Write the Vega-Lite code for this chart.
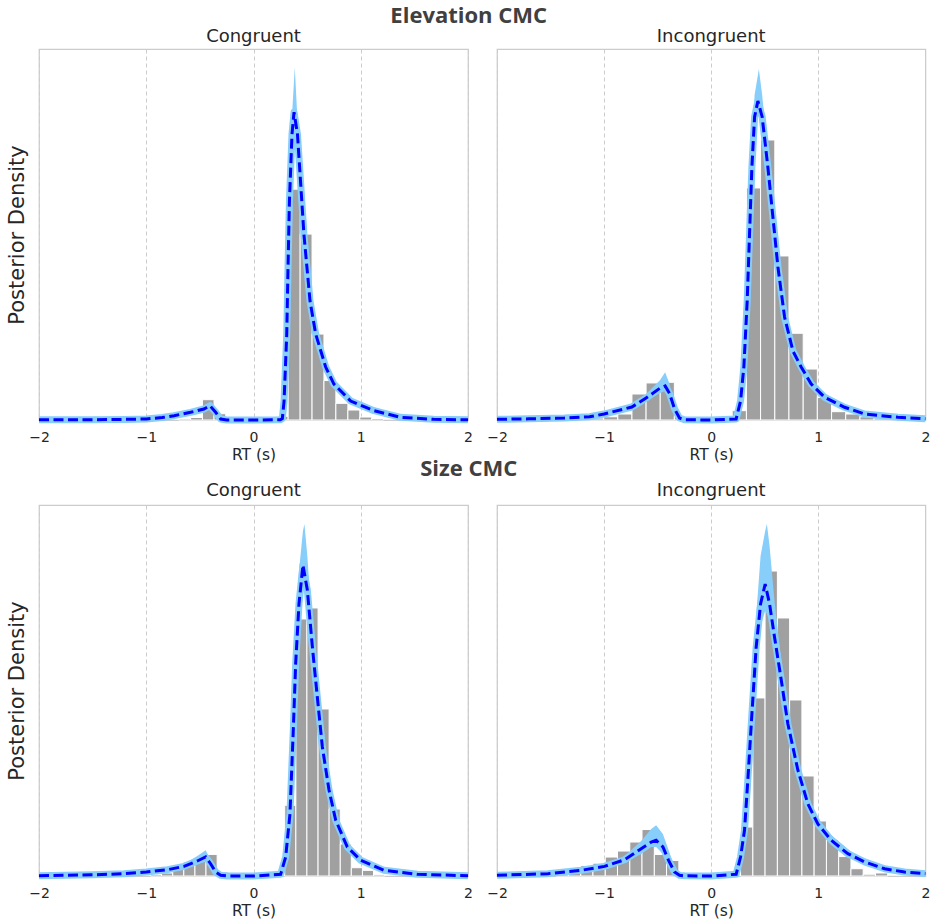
{
  "$schema": "https://vega.github.io/schema/vega-lite/v6.json",
  "background": "white",
  "padding": 5,
  "spacing": -6,
  "config": {
    "font": "DejaVu Sans",
    "view": {"stroke": "#cccccc", "strokeWidth": 1.25},
    "title": {"font": "DejaVu Sans", "fontSize": 18, "fontWeight": "normal", "color": "#262626", "offset": 3},
    "axisX": {
      "grid": true, "gridDash": [4, 3], "gridColor": "#cccccc", "gridWidth": 1,
      "domain": false, "ticks": false, "labelFlush": false, "format": "d",
      "labelFontSize": 14, "labelColor": "#262626", "labelPadding": 10,
      "titleFontSize": 15.5, "titleFontWeight": "normal", "titleColor": "#262626", "titlePadding": 3
    },
    "axisY": {
      "grid": false, "domain": false, "ticks": false, "labels": false,
      "titleFontSize": 21, "titleFontWeight": "normal", "titleColor": "#262626", "titlePadding": 12
    }
  },
  "datasets": {
    "bars": [
      {"p": "EC", "x0": -0.697, "x1": -0.586, "d": 0.015},
      {"p": "EC", "x0": -0.586, "x1": -0.476, "d": 0.037},
      {"p": "EC", "x0": -0.476, "x1": -0.368, "d": 0.301},
      {"p": "EC", "x0": -0.368, "x1": -0.259, "d": 0.093},
      {"p": "EC", "x0": 0.212, "x1": 0.323, "d": 0.055},
      {"p": "EC", "x0": 0.323, "x1": 0.435, "d": 3.422},
      {"p": "EC", "x0": 0.435, "x1": 0.546, "d": 2.756},
      {"p": "EC", "x0": 0.546, "x1": 0.657, "d": 1.274},
      {"p": "EC", "x0": 0.657, "x1": 0.768, "d": 0.585},
      {"p": "EC", "x0": 0.768, "x1": 0.88, "d": 0.247},
      {"p": "EC", "x0": 0.88, "x1": 0.991, "d": 0.148},
      {"p": "EC", "x0": 0.991, "x1": 1.102, "d": 0.044},
      {"p": "EC", "x0": 1.102, "x1": 1.213, "d": 0.022},

      {"p": "EI", "x0": -1.4, "x1": -1.268, "d": 0.008},
      {"p": "EI", "x0": -1.268, "x1": -1.136, "d": 0.012},
      {"p": "EI", "x0": -1.136, "x1": -1.004, "d": 0.015},
      {"p": "EI", "x0": -1.004, "x1": -0.872, "d": 0.025},
      {"p": "EI", "x0": -0.872, "x1": -0.74, "d": 0.046},
      {"p": "EI", "x0": -0.74, "x1": -0.608, "d": 0.2},
      {"p": "EI", "x0": -0.608, "x1": -0.476, "d": 0.285},
      {"p": "EI", "x0": -0.476, "x1": -0.344, "d": 0.29},
      {"p": "EI", "x0": -0.344, "x1": -0.212, "d": 0.025},
      {"p": "EI", "x0": 0.196, "x1": 0.329, "d": 0.072},
      {"p": "EI", "x0": 0.329, "x1": 0.461, "d": 1.785},
      {"p": "EI", "x0": 0.461, "x1": 0.594, "d": 2.154},
      {"p": "EI", "x0": 0.594, "x1": 0.726, "d": 1.262},
      {"p": "EI", "x0": 0.726, "x1": 0.859, "d": 0.667},
      {"p": "EI", "x0": 0.859, "x1": 0.991, "d": 0.392},
      {"p": "EI", "x0": 0.991, "x1": 1.124, "d": 0.173},
      {"p": "EI", "x0": 1.124, "x1": 1.256, "d": 0.064},
      {"p": "EI", "x0": 1.256, "x1": 1.389, "d": 0.046},
      {"p": "EI", "x0": 1.389, "x1": 1.521, "d": 0.025},
      {"p": "EI", "x0": 1.521, "x1": 1.654, "d": 0.015},
      {"p": "EI", "x0": 1.654, "x1": 1.786, "d": 0.008},

      {"p": "SC", "x0": -0.96, "x1": -0.857, "d": 0.015},
      {"p": "SC", "x0": -0.857, "x1": -0.753, "d": 0.031},
      {"p": "SC", "x0": -0.753, "x1": -0.65, "d": 0.072},
      {"p": "SC", "x0": -0.65, "x1": -0.546, "d": 0.144},
      {"p": "SC", "x0": -0.546, "x1": -0.443, "d": 0.174},
      {"p": "SC", "x0": -0.443, "x1": -0.339, "d": 0.221},
      {"p": "SC", "x0": -0.339, "x1": -0.236, "d": 0.041},
      {"p": "SC", "x0": 0.291, "x1": 0.395, "d": 0.725},
      {"p": "SC", "x0": 0.395, "x1": 0.498, "d": 2.636},
      {"p": "SC", "x0": 0.498, "x1": 0.602, "d": 2.749},
      {"p": "SC", "x0": 0.602, "x1": 0.705, "d": 1.713},
      {"p": "SC", "x0": 0.705, "x1": 0.809, "d": 0.687},
      {"p": "SC", "x0": 0.809, "x1": 0.912, "d": 0.328},
      {"p": "SC", "x0": 0.912, "x1": 1.016, "d": 0.085},
      {"p": "SC", "x0": 1.016, "x1": 1.119, "d": 0.058},
      {"p": "SC", "x0": 1.119, "x1": 1.223, "d": 0.013},

      {"p": "SI", "x0": -1.447, "x1": -1.333, "d": 0.011},
      {"p": "SI", "x0": -1.333, "x1": -1.218, "d": 0.025},
      {"p": "SI", "x0": -1.218, "x1": -1.104, "d": 0.066},
      {"p": "SI", "x0": -1.104, "x1": -0.989, "d": 0.081},
      {"p": "SI", "x0": -0.989, "x1": -0.875, "d": 0.12},
      {"p": "SI", "x0": -0.875, "x1": -0.76, "d": 0.158},
      {"p": "SI", "x0": -0.76, "x1": -0.646, "d": 0.215},
      {"p": "SI", "x0": -0.646, "x1": -0.531, "d": 0.294},
      {"p": "SI", "x0": -0.531, "x1": -0.417, "d": 0.136},
      {"p": "SI", "x0": -0.417, "x1": -0.302, "d": 0.098},
      {"p": "SI", "x0": 0.274, "x1": 0.389, "d": 0.31},
      {"p": "SI", "x0": 0.389, "x1": 0.503, "d": 1.127},
      {"p": "SI", "x0": 0.503, "x1": 0.618, "d": 1.93},
      {"p": "SI", "x0": 0.618, "x1": 0.732, "d": 1.633},
      {"p": "SI", "x0": 0.732, "x1": 0.847, "d": 1.114},
      {"p": "SI", "x0": 0.847, "x1": 0.961, "d": 0.633},
      {"p": "SI", "x0": 0.961, "x1": 1.076, "d": 0.348},
      {"p": "SI", "x0": 1.076, "x1": 1.19, "d": 0.228},
      {"p": "SI", "x0": 1.19, "x1": 1.305, "d": 0.123},
      {"p": "SI", "x0": 1.305, "x1": 1.419, "d": 0.046},
      {"p": "SI", "x0": 1.419, "x1": 1.534, "d": 0.011},
      {"p": "SI", "x0": 1.534, "x1": 1.648, "d": 0.019}
    ],
    "curve": [
      {"p": "EC", "x": -2.0, "m": 0.003}, {"p": "EC", "x": -1.5, "m": 0.004}, {"p": "EC", "x": -1.2, "m": 0.009},
      {"p": "EC", "x": -1.0, "m": 0.015}, {"p": "EC", "x": -0.85, "m": 0.037}, {"p": "EC", "x": -0.74, "m": 0.064},
      {"p": "EC", "x": -0.586, "m": 0.114}, {"p": "EC", "x": -0.462, "m": 0.163}, {"p": "EC", "x": -0.406, "m": 0.212},
      {"p": "EC", "x": -0.353, "m": 0.114}, {"p": "EC", "x": -0.306, "m": 0.015}, {"p": "EC", "x": -0.25, "m": 0.001},
      {"p": "EC", "x": 0.0, "m": 0.0}, {"p": "EC", "x": 0.25, "m": 0.003}, {"p": "EC", "x": 0.269, "m": 0.022},
      {"p": "EC", "x": 0.285, "m": 0.281}, {"p": "EC", "x": 0.31, "m": 1.274}, {"p": "EC", "x": 0.322, "m": 2.267},
      {"p": "EC", "x": 0.335, "m": 3.244}, {"p": "EC", "x": 0.359, "m": 4.237}, {"p": "EC", "x": 0.378, "m": 4.563},
      {"p": "EC", "x": 0.41, "m": 4.237}, {"p": "EC", "x": 0.43, "m": 3.748}, {"p": "EC", "x": 0.47, "m": 2.756},
      {"p": "EC", "x": 0.527, "m": 1.763}, {"p": "EC", "x": 0.58, "m": 1.274}, {"p": "EC", "x": 0.673, "m": 0.785},
      {"p": "EC", "x": 0.75, "m": 0.533}, {"p": "EC", "x": 0.906, "m": 0.281}, {"p": "EC", "x": 1.124, "m": 0.138},
      {"p": "EC", "x": 1.37, "m": 0.04}, {"p": "EC", "x": 1.68, "m": 0.01}, {"p": "EC", "x": 2.0, "m": 0.003},

      {"p": "EI", "x": -2.0, "m": 0.005}, {"p": "EI", "x": -1.7, "m": 0.009}, {"p": "EI", "x": -1.37, "m": 0.015},
      {"p": "EI", "x": -1.136, "m": 0.025}, {"p": "EI", "x": -1.0, "m": 0.046}, {"p": "EI", "x": -0.741, "m": 0.1},
      {"p": "EI", "x": -0.608, "m": 0.169}, {"p": "EI", "x": -0.477, "m": 0.246}, {"p": "EI", "x": -0.43, "m": 0.262},
      {"p": "EI", "x": -0.389, "m": 0.204}, {"p": "EI", "x": -0.342, "m": 0.085}, {"p": "EI", "x": -0.296, "m": 0.015},
      {"p": "EI", "x": -0.25, "m": 0.002}, {"p": "EI", "x": 0.0, "m": 0.0}, {"p": "EI", "x": 0.233, "m": 0.008},
      {"p": "EI", "x": 0.274, "m": 0.146}, {"p": "EI", "x": 0.305, "m": 0.408}, {"p": "EI", "x": 0.336, "m": 0.915},
      {"p": "EI", "x": 0.358, "m": 1.431}, {"p": "EI", "x": 0.38, "m": 1.946}, {"p": "EI", "x": 0.405, "m": 2.331},
      {"p": "EI", "x": 0.436, "m": 2.454}, {"p": "EI", "x": 0.476, "m": 2.331}, {"p": "EI", "x": 0.529, "m": 1.946},
      {"p": "EI", "x": 0.576, "m": 1.562}, {"p": "EI", "x": 0.623, "m": 1.177}, {"p": "EI", "x": 0.685, "m": 0.792},
      {"p": "EI", "x": 0.763, "m": 0.531}, {"p": "EI", "x": 0.84, "m": 0.408}, {"p": "EI", "x": 0.934, "m": 0.277},
      {"p": "EI", "x": 1.058, "m": 0.175}, {"p": "EI", "x": 1.245, "m": 0.098}, {"p": "EI", "x": 1.432, "m": 0.046},
      {"p": "EI", "x": 1.743, "m": 0.021}, {"p": "EI", "x": 2.0, "m": 0.01},

      {"p": "SC", "x": -2.0, "m": 0.003}, {"p": "SC", "x": -1.5, "m": 0.012}, {"p": "SC", "x": -1.207, "m": 0.024},
      {"p": "SC", "x": -1.0, "m": 0.041}, {"p": "SC", "x": -0.8, "m": 0.065}, {"p": "SC", "x": -0.648, "m": 0.099},
      {"p": "SC", "x": -0.524, "m": 0.154}, {"p": "SC", "x": -0.446, "m": 0.195}, {"p": "SC", "x": -0.4, "m": 0.126},
      {"p": "SC", "x": -0.353, "m": 0.041}, {"p": "SC", "x": -0.306, "m": 0.007}, {"p": "SC", "x": -0.25, "m": 0.001},
      {"p": "SC", "x": 0.0, "m": 0.0}, {"p": "SC", "x": 0.253, "m": 0.017}, {"p": "SC", "x": 0.3, "m": 0.195},
      {"p": "SC", "x": 0.34, "m": 0.636}, {"p": "SC", "x": 0.371, "m": 1.497}, {"p": "SC", "x": 0.393, "m": 2.174},
      {"p": "SC", "x": 0.424, "m": 2.79}, {"p": "SC", "x": 0.461, "m": 3.19}, {"p": "SC", "x": 0.502, "m": 2.933},
      {"p": "SC", "x": 0.549, "m": 2.349}, {"p": "SC", "x": 0.595, "m": 1.836}, {"p": "SC", "x": 0.642, "m": 1.323},
      {"p": "SC", "x": 0.704, "m": 0.882}, {"p": "SC", "x": 0.766, "m": 0.574}, {"p": "SC", "x": 0.875, "m": 0.297},
      {"p": "SC", "x": 0.999, "m": 0.161}, {"p": "SC", "x": 1.217, "m": 0.058}, {"p": "SC", "x": 1.528, "m": 0.017},
      {"p": "SC", "x": 2.0, "m": 0.003},

      {"p": "SI", "x": -2.0, "m": 0.004}, {"p": "SI", "x": -1.525, "m": 0.015}, {"p": "SI", "x": -1.214, "m": 0.036},
      {"p": "SI", "x": -0.996, "m": 0.061}, {"p": "SI", "x": -0.809, "m": 0.103}, {"p": "SI", "x": -0.654, "m": 0.173},
      {"p": "SI", "x": -0.56, "m": 0.215}, {"p": "SI", "x": -0.514, "m": 0.226}, {"p": "SI", "x": -0.451, "m": 0.184},
      {"p": "SI", "x": -0.398, "m": 0.099}, {"p": "SI", "x": -0.342, "m": 0.025}, {"p": "SI", "x": -0.296, "m": 0.004},
      {"p": "SI", "x": -0.25, "m": 0.001}, {"p": "SI", "x": 0.0, "m": 0.0}, {"p": "SI", "x": 0.233, "m": 0.011},
      {"p": "SI", "x": 0.274, "m": 0.12}, {"p": "SI", "x": 0.311, "m": 0.289}, {"p": "SI", "x": 0.342, "m": 0.606},
      {"p": "SI", "x": 0.38, "m": 1.025}, {"p": "SI", "x": 0.42, "m": 1.449}, {"p": "SI", "x": 0.461, "m": 1.722},
      {"p": "SI", "x": 0.504, "m": 1.848}, {"p": "SI", "x": 0.545, "m": 1.722}, {"p": "SI", "x": 0.591, "m": 1.513},
      {"p": "SI", "x": 0.654, "m": 1.241}, {"p": "SI", "x": 0.716, "m": 0.962}, {"p": "SI", "x": 0.809, "m": 0.671},
      {"p": "SI", "x": 0.903, "m": 0.456}, {"p": "SI", "x": 0.996, "m": 0.329}, {"p": "SI", "x": 1.121, "m": 0.226},
      {"p": "SI", "x": 1.276, "m": 0.141}, {"p": "SI", "x": 1.432, "m": 0.089}, {"p": "SI", "x": 1.619, "m": 0.046},
      {"p": "SI", "x": 1.805, "m": 0.025}, {"p": "SI", "x": 2.0, "m": 0.015}
    ],
    "band": [
      {"p": "EC", "s": "a", "x": -0.74, "lo": 0.064, "hi": 0.064},
      {"p": "EC", "s": "a", "x": -0.586, "lo": 0.096, "hi": 0.141},
      {"p": "EC", "s": "a", "x": -0.462, "lo": 0.141, "hi": 0.207},
      {"p": "EC", "s": "a", "x": -0.406, "lo": 0.185, "hi": 0.262},
      {"p": "EC", "s": "a", "x": -0.353, "lo": 0.089, "hi": 0.148},
      {"p": "EC", "s": "a", "x": -0.306, "lo": 0.015, "hi": 0.015},
      {"p": "EC", "s": "b", "x": 0.322, "lo": 2.267, "hi": 2.267},
      {"p": "EC", "s": "b", "x": 0.335, "lo": 3.141, "hi": 3.407},
      {"p": "EC", "s": "b", "x": 0.359, "lo": 4.119, "hi": 4.519},
      {"p": "EC", "s": "b", "x": 0.378, "lo": 4.415, "hi": 5.037},
      {"p": "EC", "s": "b", "x": 0.385, "lo": 4.37, "hi": 5.23},
      {"p": "EC", "s": "b", "x": 0.41, "lo": 4.119, "hi": 4.444},
      {"p": "EC", "s": "b", "x": 0.43, "lo": 3.644, "hi": 3.881},
      {"p": "EC", "s": "b", "x": 0.47, "lo": 2.756, "hi": 2.756},

      {"p": "EI", "s": "a", "x": -0.741, "lo": 0.1, "hi": 0.1},
      {"p": "EI", "s": "a", "x": -0.608, "lo": 0.146, "hi": 0.2},
      {"p": "EI", "s": "a", "x": -0.477, "lo": 0.208, "hi": 0.308},
      {"p": "EI", "s": "a", "x": -0.43, "lo": 0.223, "hi": 0.367},
      {"p": "EI", "s": "a", "x": -0.389, "lo": 0.169, "hi": 0.277},
      {"p": "EI", "s": "a", "x": -0.342, "lo": 0.062, "hi": 0.115},
      {"p": "EI", "s": "a", "x": -0.296, "lo": 0.015, "hi": 0.015},
      {"p": "EI", "s": "b", "x": 0.358, "lo": 1.431, "hi": 1.431},
      {"p": "EI", "s": "b", "x": 0.38, "lo": 1.885, "hi": 2.077},
      {"p": "EI", "s": "b", "x": 0.405, "lo": 2.269, "hi": 2.5},
      {"p": "EI", "s": "b", "x": 0.436, "lo": 2.369, "hi": 2.654},
      {"p": "EI", "s": "b", "x": 0.445, "lo": 2.385, "hi": 2.7},
      {"p": "EI", "s": "b", "x": 0.476, "lo": 2.269, "hi": 2.5},
      {"p": "EI", "s": "b", "x": 0.529, "lo": 1.908, "hi": 2.038},
      {"p": "EI", "s": "b", "x": 0.576, "lo": 1.562, "hi": 1.562},

      {"p": "SC", "s": "a", "x": -0.8, "lo": 0.065, "hi": 0.065},
      {"p": "SC", "s": "a", "x": -0.648, "lo": 0.082, "hi": 0.123},
      {"p": "SC", "s": "a", "x": -0.524, "lo": 0.128, "hi": 0.205},
      {"p": "SC", "s": "a", "x": -0.446, "lo": 0.144, "hi": 0.264},
      {"p": "SC", "s": "a", "x": -0.4, "lo": 0.103, "hi": 0.164},
      {"p": "SC", "s": "a", "x": -0.353, "lo": 0.041, "hi": 0.041},
      {"p": "SC", "s": "b", "x": 0.371, "lo": 1.497, "hi": 1.497},
      {"p": "SC", "s": "b", "x": 0.393, "lo": 2.051, "hi": 2.41},
      {"p": "SC", "s": "b", "x": 0.424, "lo": 2.687, "hi": 3.128},
      {"p": "SC", "s": "b", "x": 0.461, "lo": 3.026, "hi": 3.538},
      {"p": "SC", "s": "b", "x": 0.475, "lo": 2.974, "hi": 3.61},
      {"p": "SC", "s": "b", "x": 0.502, "lo": 2.821, "hi": 3.282},
      {"p": "SC", "s": "b", "x": 0.549, "lo": 2.277, "hi": 2.513},
      {"p": "SC", "s": "b", "x": 0.595, "lo": 1.836, "hi": 1.836},

      {"p": "SI", "s": "a", "x": -0.996, "lo": 0.061, "hi": 0.061},
      {"p": "SI", "s": "a", "x": -0.809, "lo": 0.082, "hi": 0.127},
      {"p": "SI", "s": "a", "x": -0.654, "lo": 0.139, "hi": 0.222},
      {"p": "SI", "s": "a", "x": -0.56, "lo": 0.184, "hi": 0.297},
      {"p": "SI", "s": "a", "x": -0.514, "lo": 0.184, "hi": 0.321},
      {"p": "SI", "s": "a", "x": -0.451, "lo": 0.139, "hi": 0.266},
      {"p": "SI", "s": "a", "x": -0.398, "lo": 0.063, "hi": 0.165},
      {"p": "SI", "s": "a", "x": -0.342, "lo": 0.013, "hi": 0.051},
      {"p": "SI", "s": "a", "x": -0.296, "lo": 0.004, "hi": 0.004},
      {"p": "SI", "s": "b", "x": 0.342, "lo": 0.606, "hi": 0.606},
      {"p": "SI", "s": "b", "x": 0.38, "lo": 0.949, "hi": 1.139},
      {"p": "SI", "s": "b", "x": 0.42, "lo": 1.329, "hi": 1.646},
      {"p": "SI", "s": "b", "x": 0.461, "lo": 1.582, "hi": 2.025},
      {"p": "SI", "s": "b", "x": 0.504, "lo": 1.677, "hi": 2.184},
      {"p": "SI", "s": "b", "x": 0.52, "lo": 1.658, "hi": 2.228},
      {"p": "SI", "s": "b", "x": 0.545, "lo": 1.614, "hi": 2.089},
      {"p": "SI", "s": "b", "x": 0.591, "lo": 1.443, "hi": 1.741},
      {"p": "SI", "s": "b", "x": 0.654, "lo": 1.19, "hi": 1.361},
      {"p": "SI", "s": "b", "x": 0.716, "lo": 0.918, "hi": 1.013},
      {"p": "SI", "s": "b", "x": 0.809, "lo": 0.627, "hi": 0.722},
      {"p": "SI", "s": "b", "x": 0.903, "lo": 0.418, "hi": 0.5},
      {"p": "SI", "s": "b", "x": 0.996, "lo": 0.297, "hi": 0.367},
      {"p": "SI", "s": "b", "x": 1.121, "lo": 0.196, "hi": 0.259},
      {"p": "SI", "s": "b", "x": 1.276, "lo": 0.114, "hi": 0.171},
      {"p": "SI", "s": "b", "x": 1.432, "lo": 0.089, "hi": 0.089}
    ]
  },
  "vconcat": [
    {
      "title": {"text": "Elevation CMC", "font": "Open Sans", "fontSize": 22, "fontWeight": "bold", "color": "#404040", "anchor": "middle", "offset": -1},
      "spacing": 11,
      "hconcat": [
        {
          "width": 429, "height": 371,
          "title": "Congruent",
          "layer": [
            {"data": {"name": "bars"}, "transform": [{"filter": "datum.p === 'EC'"}],
             "mark": {"type": "rect", "fill": "#a0a0a0", "stroke": "white", "strokeWidth": 1},
             "encoding": {
               "x": {"field": "x0", "type": "quantitative", "title": "RT (s)", "scale": {"domain": [-2, 2], "nice": false}, "axis": {"values": [-2, -1, 0, 1, 2]}},
               "x2": {"field": "x1"},
               "y": {"field": "d", "type": "quantitative", "title": "Posterior Density", "scale": {"domain": [0, 5.5], "nice": false, "zero": true}},
               "y2": {"datum": 0}}},
            {"data": {"name": "band"}, "transform": [{"filter": "datum.p === 'EC'"}],
             "mark": {"type": "area", "fill": "#87cefa"},
             "encoding": {
               "x": {"field": "x", "type": "quantitative", "title": "RT (s)"},
               "y": {"field": "hi", "type": "quantitative", "title": "Posterior Density"},
               "y2": {"field": "lo"},
               "detail": {"field": "s"}}},
            {"data": {"name": "curve"}, "transform": [{"filter": "datum.p === 'EC'"}],
             "mark": {"type": "line", "stroke": "#87cefa", "strokeWidth": 7, "strokeJoin": "round"},
             "encoding": {
               "x": {"field": "x", "type": "quantitative", "title": "RT (s)"},
               "y": {"field": "m", "type": "quantitative", "title": "Posterior Density"}}},
            {"data": {"name": "curve"}, "transform": [{"filter": "datum.p === 'EC'"}],
             "mark": {"type": "line", "stroke": "#0000ff", "strokeWidth": 3, "strokeDash": [10, 4.5]},
             "encoding": {
               "x": {"field": "x", "type": "quantitative", "title": "RT (s)"},
               "y": {"field": "m", "type": "quantitative", "title": "Posterior Density"}}}
          ]
        },
        {
          "width": 428.4, "height": 371,
          "title": "Incongruent",
          "layer": [
            {"data": {"name": "bars"}, "transform": [{"filter": "datum.p === 'EI'"}],
             "mark": {"type": "rect", "fill": "#a0a0a0", "stroke": "white", "strokeWidth": 1},
             "encoding": {
               "x": {"field": "x0", "type": "quantitative", "title": "RT (s)", "scale": {"domain": [-2, 2], "nice": false}, "axis": {"values": [-2, -1, 0, 1, 2]}},
               "x2": {"field": "x1"},
               "y": {"field": "d", "type": "quantitative", "axis": null, "scale": {"domain": [0, 2.854], "nice": false, "zero": true}},
               "y2": {"datum": 0}}},
            {"data": {"name": "band"}, "transform": [{"filter": "datum.p === 'EI'"}],
             "mark": {"type": "area", "fill": "#87cefa"},
             "encoding": {
               "x": {"field": "x", "type": "quantitative", "title": "RT (s)"},
               "y": {"field": "hi", "type": "quantitative", "axis": null},
               "y2": {"field": "lo"},
               "detail": {"field": "s"}}},
            {"data": {"name": "curve"}, "transform": [{"filter": "datum.p === 'EI'"}],
             "mark": {"type": "line", "stroke": "#87cefa", "strokeWidth": 7, "strokeJoin": "round"},
             "encoding": {
               "x": {"field": "x", "type": "quantitative", "title": "RT (s)"},
               "y": {"field": "m", "type": "quantitative", "axis": null}}},
            {"data": {"name": "curve"}, "transform": [{"filter": "datum.p === 'EI'"}],
             "mark": {"type": "line", "stroke": "#0000ff", "strokeWidth": 3, "strokeDash": [10, 4.5]},
             "encoding": {
               "x": {"field": "x", "type": "quantitative", "title": "RT (s)"},
               "y": {"field": "m", "type": "quantitative", "axis": null}}}
          ]
        }
      ]
    },
    {
      "title": {"text": "Size CMC", "font": "Open Sans", "fontSize": 22, "fontWeight": "bold", "color": "#404040", "anchor": "middle", "offset": 0},
      "spacing": 11,
      "hconcat": [
        {
          "width": 429, "height": 371,
          "title": {"text": "Congruent", "offset": 5},
          "layer": [
            {"data": {"name": "bars"}, "transform": [{"filter": "datum.p === 'SC'"}],
             "mark": {"type": "rect", "fill": "#a0a0a0", "stroke": "white", "strokeWidth": 1},
             "encoding": {
               "x": {"field": "x0", "type": "quantitative", "title": "RT (s)", "scale": {"domain": [-2, 2], "nice": false}, "axis": {"values": [-2, -1, 0, 1, 2]}},
               "x2": {"field": "x1"},
               "y": {"field": "d", "type": "quantitative", "title": "Posterior Density", "scale": {"domain": [0, 3.805], "nice": false, "zero": true}},
               "y2": {"datum": 0}}},
            {"data": {"name": "band"}, "transform": [{"filter": "datum.p === 'SC'"}],
             "mark": {"type": "area", "fill": "#87cefa"},
             "encoding": {
               "x": {"field": "x", "type": "quantitative", "title": "RT (s)"},
               "y": {"field": "hi", "type": "quantitative", "title": "Posterior Density"},
               "y2": {"field": "lo"},
               "detail": {"field": "s"}}},
            {"data": {"name": "curve"}, "transform": [{"filter": "datum.p === 'SC'"}],
             "mark": {"type": "line", "stroke": "#87cefa", "strokeWidth": 7, "strokeJoin": "round"},
             "encoding": {
               "x": {"field": "x", "type": "quantitative", "title": "RT (s)"},
               "y": {"field": "m", "type": "quantitative", "title": "Posterior Density"}}},
            {"data": {"name": "curve"}, "transform": [{"filter": "datum.p === 'SC'"}],
             "mark": {"type": "line", "stroke": "#0000ff", "strokeWidth": 3, "strokeDash": [10, 4.5]},
             "encoding": {
               "x": {"field": "x", "type": "quantitative", "title": "RT (s)"},
               "y": {"field": "m", "type": "quantitative", "title": "Posterior Density"}}}
          ]
        },
        {
          "width": 428.4, "height": 371,
          "title": {"text": "Incongruent", "offset": 5},
          "layer": [
            {"data": {"name": "bars"}, "transform": [{"filter": "datum.p === 'SI'"}],
             "mark": {"type": "rect", "fill": "#a0a0a0", "stroke": "white", "strokeWidth": 1},
             "encoding": {
               "x": {"field": "x0", "type": "quantitative", "title": "RT (s)", "scale": {"domain": [-2, 2], "nice": false}, "axis": {"values": [-2, -1, 0, 1, 2]}},
               "x2": {"field": "x1"},
               "y": {"field": "d", "type": "quantitative", "axis": null, "scale": {"domain": [0, 2.348], "nice": false, "zero": true}},
               "y2": {"datum": 0}}},
            {"data": {"name": "band"}, "transform": [{"filter": "datum.p === 'SI'"}],
             "mark": {"type": "area", "fill": "#87cefa"},
             "encoding": {
               "x": {"field": "x", "type": "quantitative", "title": "RT (s)"},
               "y": {"field": "hi", "type": "quantitative", "axis": null},
               "y2": {"field": "lo"},
               "detail": {"field": "s"}}},
            {"data": {"name": "curve"}, "transform": [{"filter": "datum.p === 'SI'"}],
             "mark": {"type": "line", "stroke": "#87cefa", "strokeWidth": 7, "strokeJoin": "round"},
             "encoding": {
               "x": {"field": "x", "type": "quantitative", "title": "RT (s)"},
               "y": {"field": "m", "type": "quantitative", "axis": null}}},
            {"data": {"name": "curve"}, "transform": [{"filter": "datum.p === 'SI'"}],
             "mark": {"type": "line", "stroke": "#0000ff", "strokeWidth": 3, "strokeDash": [10, 4.5]},
             "encoding": {
               "x": {"field": "x", "type": "quantitative", "title": "RT (s)"},
               "y": {"field": "m", "type": "quantitative", "axis": null}}}
          ]
        }
      ]
    }
  ]
}
